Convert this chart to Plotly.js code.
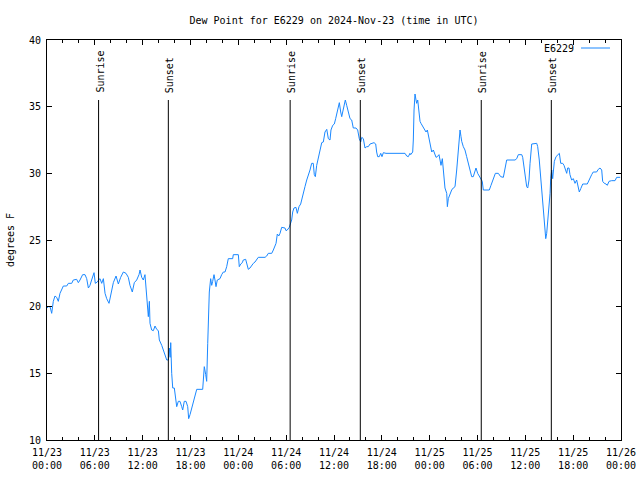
<!DOCTYPE html>
<html>
<head>
<meta charset="utf-8">
<script src="https://cdn.plot.ly/plotly-3.0.1.min.js"></script>
<style>html,body{margin:0;padding:0;background:#fff;}#chart{width:640px;height:480px;}</style>
</head>
<body>
<div id="chart"></div>
<script>
// Hours after 2024-11-23 00:00 UTC
const hours = [
0.00,0.17,0.38,0.59,0.79,1.00,1.21,1.42,1.63,1.84,2.05,2.47,2.68,3.10,3.30,3.72,3.93,4.14,4.47,4.77,
4.98,5.19,5.39,5.60,5.90,6.06,6.31,6.48,6.65,6.86,7.07,7.28,7.49,7.78,8.03,8.32,8.66,8.95,9.24,9.58,
9.91,10.20,10.41,10.70,10.95,11.25,11.54,11.67,11.88,12.08,12.29,12.42,12.59,12.71,12.84,12.92,13.13,13.34,13.55,13.76,
13.97,14.09,14.39,14.59,14.80,15.02,15.22,15.34,15.45,15.52,15.64,15.77,15.97,16.14,16.27,16.47,16.68,16.90,17.02,17.22,
17.44,17.65,17.77,17.94,18.15,18.35,18.56,18.78,19.53,19.61,19.73,19.91,20.03,20.16,20.28,20.36,20.53,20.66,20.78,20.95,
21.07,21.20,21.36,21.70,21.91,22.12,22.33,22.54,22.74,23.29,23.37,24.00,24.12,24.30,24.50,24.62,24.92,25.05,25.25,25.46,
25.68,25.88,26.09,26.30,26.50,27.35,27.56,27.76,28.19,28.39,28.60,28.73,28.89,29.07,29.23,29.44,29.85,29.98,30.14,30.39,
30.69,30.82,30.98,31.23,31.40,31.61,31.82,31.99,32.15,32.36,32.58,32.78,32.99,33.20,33.40,33.53,33.66,33.83,34.03,34.24,
34.46,34.66,34.87,35.09,35.29,35.50,35.62,35.84,36.04,36.21,36.42,36.54,36.67,36.84,36.97,37.09,37.26,37.42,37.59,37.80,
38.01,38.22,38.42,38.76,38.97,39.17,39.35,39.48,39.68,39.89,40.10,40.30,40.52,41.02,41.23,41.35,41.48,41.68,41.86,42.02,
42.19,42.52,44.91,45.12,45.32,45.53,45.62,45.87,45.95,46.04,46.16,46.29,46.37,46.50,46.62,46.79,46.91,47.13,47.33,47.54,
47.71,47.88,48.04,48.26,48.46,48.63,48.80,48.96,49.17,49.30,49.42,49.59,49.71,49.92,50.14,50.22,50.34,50.55,50.76,50.96,
51.18,51.39,51.51,51.68,51.81,51.93,52.02,52.22,52.43,52.64,52.85,53.06,53.27,53.47,53.69,53.81,54.02,54.23,54.44,54.60,
54.73,55.48,55.69,55.98,56.24,56.61,56.91,57.24,57.45,57.66,58.71,58.92,59.12,59.55,59.67,59.83,60.05,60.17,60.30,60.46,
60.59,60.80,61.43,61.55,61.75,61.93,62.09,62.18,62.34,62.47,62.56,62.68,62.81,62.97,63.10,63.18,63.31,63.43,63.51,63.64,
63.85,64.14,64.27,64.44,64.69,64.85,65.06,65.19,65.31,65.48,65.60,65.81,66.02,66.23,66.44,66.61,66.77,66.95,67.20,67.77,
67.90,68.11,68.32,68.52,68.94,69.15,69.37,69.58,69.70,69.91,70.12,70.28,70.50,70.83,71.25,71.46,71.71,71.90
];
const dewF = [
19.9,20.0,20.0,19.5,20.4,20.8,20.7,20.4,21.0,21.3,21.55,21.55,21.75,21.75,22.0,22.05,21.8,22.0,22.4,22.4,
22.1,21.4,21.6,22.0,22.55,21.75,21.85,22.0,22.1,21.75,22.1,21.0,20.6,20.25,21.0,21.8,22.3,21.7,22.2,22.6,
22.5,22.2,21.6,21.1,21.8,22.0,22.4,22.75,22.2,22.0,22.4,21.2,20.5,19.25,20.4,18.75,18.25,18.2,18.55,18.3,
18.2,17.5,17.1,16.75,16.25,16.0,16.0,16.9,16.2,17.3,15.0,13.9,13.9,13.0,12.5,12.9,12.9,12.5,12.25,12.9,
12.9,12.5,11.6,11.9,12.4,12.9,13.5,13.8,13.8,14.5,15.5,14.9,14.4,17.25,19.1,21.1,22.1,21.6,21.9,22.4,
22.0,21.5,22.0,22.1,22.4,22.6,22.6,23.0,23.6,23.6,23.9,23.9,23.0,23.2,23.3,23.5,23.55,23.2,22.8,22.9,
23.1,23.25,23.35,23.5,23.7,23.7,23.8,24.0,24.0,24.25,24.5,24.75,25.45,25.3,25.5,25.95,25.9,25.7,25.75,25.95,
26.5,27.1,27.4,27.45,27.0,27.5,27.7,28.05,28.55,29.0,29.5,29.8,30.25,30.75,30.75,29.9,29.75,30.6,31.1,31.6,
32.3,32.35,33.1,33.3,32.6,32.5,33.25,33.6,33.7,34.1,34.75,35.0,35.3,34.6,34.25,34.6,35.0,35.5,35.1,34.6,
34.1,34.0,33.4,33.4,33.25,32.6,32.35,32.7,32.6,31.9,32.0,32.0,32.2,32.3,32.2,31.6,31.25,31.25,31.5,31.25,
31.55,31.5,31.5,31.3,31.25,31.5,31.4,31.6,32.5,34.75,35.95,35.5,35.25,35.5,34.75,33.9,33.75,33.5,33.25,33.1,
33.25,32.75,32.25,31.6,31.75,31.5,31.2,31.25,31.4,31.0,30.6,31.1,30.0,28.9,28.5,27.5,28.1,28.5,28.75,28.9,
29.0,30.25,31.25,32.6,33.25,32.75,32.4,32.0,31.75,31.25,30.75,30.25,29.75,29.75,30.1,30.4,30.0,29.75,29.6,29.4,
28.75,28.75,29.1,29.6,30.0,30.0,29.75,29.7,30.25,31.0,31.0,31.1,31.4,31.4,31.2,30.4,29.6,29.0,28.9,29.5,
30.75,32.2,32.25,32.0,31.0,29.75,28.5,27.4,26.5,25.5,25.1,25.5,26.5,27.25,28.5,29.6,30.25,29.6,30.25,30.9,
31.25,31.4,31.5,30.75,30.75,30.6,30.1,30.0,30.4,30.4,29.9,29.5,29.6,29.25,29.5,29.0,28.6,28.85,29.2,29.2,
29.4,29.6,29.9,30.1,30.1,30.3,30.4,30.25,29.4,29.25,29.2,29.1,29.4,29.45,29.45,29.7,29.7,29.7
];
// Sun events (hours after start)
const sunHours = [6.47, 15.22, 30.50, 39.30, 54.47, 63.26];
const sunLabels = ["Sunrise", "Sunset", "Sunrise", "Sunset", "Sunrise", "Sunset"];
const sunLineTop = 35.5;
const seriesName = "E6229";
const startMs = Date.UTC(2024, 10, 23, 0, 0, 0);

function toDate(h) {
  const d = new Date(startMs + Math.round(h * 3600000));
  return d.toISOString().replace('T', ' ').slice(0, 19);
}

const xs = hours.map(toDate);
const FONT = 'DejaVu Sans Mono, monospace';

const trace = {
  x: xs, y: dewF, type: 'scatter', mode: 'lines', name: seriesName,
  line: {color: '#1a88ff', width: 1}, showlegend: false, hoverinfo: 'x+y'
};

const shapes = sunHours.map(h => ({
  type: 'line', xref: 'x', yref: 'y', x0: toDate(h), x1: toDate(h), y0: 10, y1: sunLineTop,
  line: {color: '#000', width: 1}
}));
const annotations = sunHours.map((h, i) => ({
  x: toDate(h), y: sunLineTop, xref: 'x', yref: 'y', text: sunLabels[i], showarrow: false,
  textangle: -90, xanchor: 'center', yanchor: 'bottom', yshift: 5, xshift: 1,
  font: {family: FONT, size: 10, color: '#000'}
}));
// legend-like key (text then line sample)
annotations.push({
  xref: 'paper', yref: 'paper', x: (576 - 47) / 574, y: (440 - 48) / 400, xanchor: 'right', yanchor: 'middle',
  text: seriesName, showarrow: false, font: {family: FONT, size: 10, color: '#000'}
});
shapes.push({
  type: 'line', xref: 'paper', yref: 'paper', x0: (581 - 47) / 574, x1: (610 - 47) / 574,
  y0: (440 - 48) / 400, y1: (440 - 48) / 400, line: {color: '#1a88ff', width: 1}
});

const layout = {
  width: 640, height: 480,
  margin: {l: 47, r: 19, t: 40, b: 40, pad: 0},
  paper_bgcolor: '#fff', plot_bgcolor: '#fff',
  font: {family: FONT, size: 10, color: '#000'},
  title: {text: 'Dew Point for E6229 on 2024-Nov-23 (time in UTC)', x: 334 / 640, xanchor: 'center',
          y: 1 - 20 / 480, yanchor: 'middle', yref: 'container', font: {family: FONT, size: 10, color: '#000'}},
  xaxis: {
    type: 'date', range: [toDate(0), toDate(72)],
    tick0: toDate(0), dtick: 6 * 3600000, tickformat: '%m/%d<br>%H:%M',
    ticks: 'inside', ticklen: 5, tickcolor: '#000', tickwidth: 1, ticklabelstandoff: 3,
    minor: {dtick: 2 * 3600000, ticks: 'inside', ticklen: 3, tickcolor: '#000', showgrid: false},
    showline: true, linecolor: '#000', linewidth: 1, mirror: 'ticks',
    showgrid: false, zeroline: false, fixedrange: true,
    tickfont: {family: FONT, size: 10, color: '#000'}
  },
  yaxis: {
    range: [10, 40], tick0: 10, dtick: 5,
    ticks: 'inside', ticklen: 5, tickcolor: '#000', tickwidth: 1, ticklabelstandoff: 3,
    showline: true, linecolor: '#000', linewidth: 1, mirror: 'ticks',
    showgrid: false, zeroline: false, fixedrange: true,
    tickfont: {family: FONT, size: 10, color: '#000'},
    title: {text: 'degrees F', standoff: 12, font: {family: FONT, size: 10, color: '#000'}}
  },
  shapes: shapes,
  annotations: annotations,
  showlegend: false
};

Plotly.newPlot('chart', [trace], layout, {displayModeBar: false, staticPlot: true});
</script>
</body>
</html>
